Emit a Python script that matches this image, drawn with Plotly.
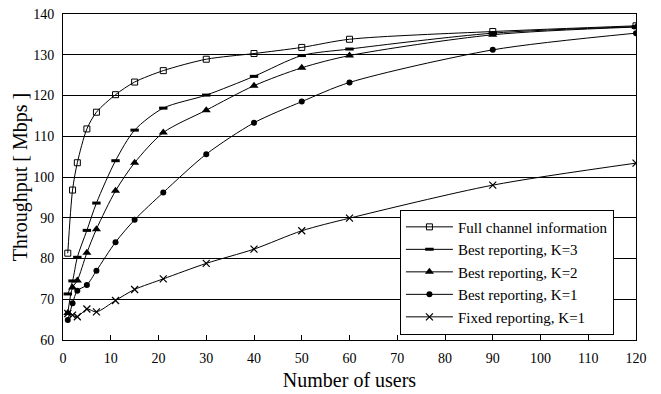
import plotly.graph_objects as go

users = [1, 2, 3, 5, 7, 11, 15, 21, 30, 40, 50, 60, 90, 120]
full_info = [81.3, 96.8, 103.5, 111.8, 115.9, 120.2, 123.3, 126.1, 128.9, 130.3, 131.8, 133.8, 135.7, 137.1]
best_k3 = [71.3, 74.5, 80.3, 86.9, 93.6, 104.0, 111.5, 116.9, 120.1, 124.7, 129.8, 131.4, 135.3, 136.9]
best_k2 = [66.6, 72.9, 74.6, 81.4, 87.2, 96.6, 103.5, 110.9, 116.4, 122.4, 126.8, 129.8, 134.9, 136.8]
best_k1 = [64.9, 69.0, 72.1, 73.5, 77.0, 84.0, 89.5, 96.2, 105.6, 113.3, 118.5, 123.2, 131.2, 135.3]
fixed_k1 = [66.5, 66.1, 65.7, 67.6, 66.9, 69.7, 72.4, 75.0, 78.8, 82.3, 86.8, 89.9, 98.0, 103.4]

names = ["Full channel information", "Best reporting, K=3", "Best reporting, K=2",
         "Best reporting, K=1", "Fixed reporting, K=1"]
series = [full_info, best_k3, best_k2, best_k1, fixed_k1]
markers = [
    dict(symbol="square-open", size=6, color="black", line=dict(width=1, color="black")),
    dict(symbol="line-ew", size=6, color="black", line=dict(width=3, color="black")),
    dict(symbol="triangle-up", size=8, color="black"),
    dict(symbol="circle", size=6, color="black"),
    dict(symbol="x-thin", size=7, color="black", line=dict(width=1.2, color="black")),
]

fig = go.Figure()
for i, (n, s, m) in enumerate(zip(names, series, markers)):
    fig.add_trace(go.Scatter(
        x=users, y=s, name=n, mode="lines+markers",
        line=dict(color="black", width=1, shape="spline", smoothing=0.8),
        marker=m,
    ))

font = "Times New Roman, Liberation Serif, DejaVu Serif, serif"
fig.update_layout(
    width=661, height=394,
    margin=dict(l=63, r=25, t=14, b=54),
    paper_bgcolor="white", plot_bgcolor="white",
    font=dict(family=font, size=14, color="black"),
    showlegend=True,
    legend=dict(x=0.588, y=0.40, xanchor="left", yanchor="top",
                bgcolor="white", bordercolor="black", borderwidth=1,
                font=dict(family=font, size=15), tracegroupgap=0,
                itemwidth=47),
    xaxis=dict(range=[0, 120], dtick=10, tick0=0, automargin=False,
               showgrid=False, zeroline=False,
               showline=True, linecolor="black", linewidth=1, mirror=True,
               ticks="inside", ticklen=5, tickcolor="black", ticklabelstandoff=5,
               title=dict(text="Number of users", font=dict(family=font, size=20), standoff=8),
               tickfont=dict(family=font, size=14)),
    yaxis=dict(range=[60, 140], dtick=10, automargin=False,
               showgrid=True, gridcolor="black", gridwidth=1, zeroline=False,
               showline=True, linecolor="black", linewidth=1, mirror=True,
               ticks="", ticklabelstandoff=5,
               title=dict(text="Throughput [ Mbps ]", font=dict(family=font, size=20), standoff=0),
               tickfont=dict(family=font, size=14)),
)

fig.write_html("out.html", config={"displayModeBar": False},
               post_script="document.body.style.margin='0';")
